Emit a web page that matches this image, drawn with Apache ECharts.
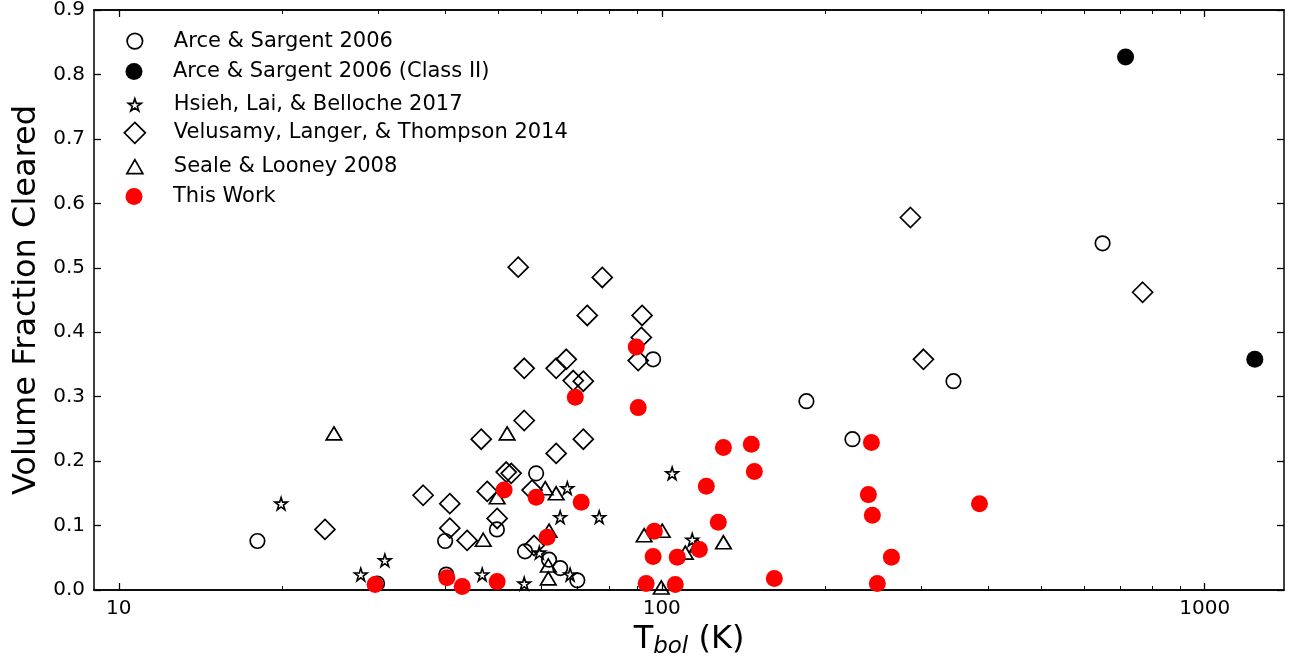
<!DOCTYPE html>
<html><head><meta charset="utf-8">
<script src="https://cdn.jsdelivr.net/npm/echarts@6/dist/echarts.min.js"></script>
<style>html,body{margin:0;padding:0;background:#fff}#c{width:1291px;height:657px}</style>
</head><body><div id="c"></div>
<script>
// ---------- data ----------
const seriesNames = ['Arce & Sargent 2006', 'Arce & Sargent 2006 (Class II)', 'Hsieh, Lai, & Belloche 2017',
  'Velusamy, Langer, & Thompson 2014', 'Seale & Looney 2008', 'This Work'];

const arceT = [18.0, 29.9, 39.9, 40.1, 49.7, 56.0, 58.7, 62.0, 65.0, 69.9, 96.4, 184.7, 224.5, 344.6, 648.6];
const arceV = [0.076, 0.010, 0.076, 0.024, 0.094, 0.060, 0.181, 0.047, 0.034, 0.015, 0.358, 0.293, 0.234, 0.324, 0.538];

const arceIIT = [715, 1237];
const arceIIV = [0.827, 0.358];

const hsiehT = [19.9, 27.9, 30.9, 46.7, 55.8, 59.5, 65.0, 67.0, 67.8, 76.7, 104.5, 113.8];
const hsiehV = [0.134, 0.024, 0.046, 0.024, 0.010, 0.058, 0.113, 0.158, 0.024, 0.113, 0.181, 0.078];

const veluT = [23.97, 36.35, 40.7, 40.7, 43.8, 46.5, 47.7, 49.75, 51.7, 52.8, 54.4, 55.8, 55.8, 57.7, 58.2,
  63.9, 63.9, 66.7, 68.7, 71.7, 71.7, 72.9, 77.7, 92.0, 91.7, 90.5, 287.1, 303.4, 768.6];
const veluV = [0.094, 0.147, 0.134, 0.096, 0.077, 0.234, 0.153, 0.111, 0.183, 0.181, 0.501, 0.344, 0.263, 0.155, 0.069,
  0.212, 0.344, 0.358, 0.325, 0.324, 0.234, 0.426, 0.485, 0.426, 0.392, 0.356, 0.578, 0.358, 0.462];

const sealeT = [24.9, 46.9, 49.75, 51.9, 61.0, 63.9, 62.0, 61.8, 61.8, 92.8, 100.2, 99.8, 110.5, 116.3, 129.9];
const sealeV = [0.243, 0.078, 0.144, 0.243, 0.158, 0.150, 0.092, 0.038, 0.018, 0.085, 0.092, 0.004, 0.058, 0.069, 0.074];

const workT = [29.65, 40.2, 42.9, 49.75, 51.25, 58.7, 61.5, 69.3, 71.06, 89.75, 90.5, 93.6, 96.4, 96.9, 105.9,
  106.8, 117.3, 120.8, 127.1, 129.9, 146.2, 148.1, 161.2, 243.3, 240.2, 244.3, 264.9, 249.5, 384.8];
const workV = [0.0085, 0.019, 0.0054, 0.013, 0.155, 0.144, 0.082, 0.299, 0.136, 0.377, 0.283, 0.010, 0.052, 0.091, 0.0085,
  0.051, 0.063, 0.161, 0.105, 0.221, 0.226, 0.184, 0.018, 0.229, 0.148, 0.116, 0.051, 0.010, 0.134];

const xMajorTicks = [10, 100, 1000];
const xMinorTicks = [20, 30, 40, 50, 60, 70, 80, 90, 200, 300, 400, 500, 600, 700, 800, 900];
const yTicks = [0.0, 0.1, 0.2, 0.3, 0.4, 0.5, 0.6, 0.7, 0.8, 0.9];

// ---------- chart ----------
const pairs = (xs, ys) => xs.map((x, i) => [x, ys[i]]);
const FONT = 'DejaVu Sans';
const STAR = 'path://M100,0 L122.45,69.1 L195.11,69.1 L136.33,111.8 L158.78,180.9 L100,138.2 L41.22,180.9 L63.67,111.8 L4.89,69.1 L77.55,69.1 Z';
const CLEAR = 'rgba(0,0,0,0)';

const styles = [
  {symbol: 'circle', size: 14.5, item: {color: CLEAR, borderColor: '#000', borderWidth: 1.7, opacity: 1}, data: pairs(arceT, arceV)},
  {symbol: 'circle', size: 17, item: {color: '#000', borderWidth: 0, opacity: 1}, data: pairs(arceIIT, arceIIV)},
  {symbol: STAR, size: 12.5, item: {color: CLEAR, borderColor: '#000', borderWidth: 1.6, opacity: 1}, data: pairs(hsiehT, hsiehV)},
  {symbol: 'diamond', size: 20, item: {color: CLEAR, borderColor: '#000', borderWidth: 1.7, opacity: 1}, data: pairs(veluT, veluV)},
  {symbol: 'triangle', size: [15.5, 13], item: {color: CLEAR, borderColor: '#000', borderWidth: 1.7, opacity: 1}, data: pairs(sealeT, sealeV)},
  {symbol: 'circle', size: 17, item: {color: '#ff0000', borderWidth: 0, opacity: 1}, data: pairs(workT, workV)}
];

const legendRows = [38.3, 69.5, 100.8, 132.0, 163.2, 194.5];
const legendIcon = [[15.5, 15.5], [17, 17], [13, 13], [21, 21], [16, 14], [17, 17]];

const series = styles.map((s, i) => ({
  name: seriesNames[i], type: 'scatter', xAxisIndex: 0, yAxisIndex: 0,
  symbol: s.symbol, symbolSize: s.size, itemStyle: s.item, data: s.data,
  silent: true, animation: false, z: 2 + i
}));

const legends = seriesNames.map((n, i) => {
  const w = legendIcon[i][0], h = legendIcon[i][1];
  return {
    data: [n], orient: 'vertical', selectedMode: false, padding: 0,
    left: 134 - w / 2, top: legendRows[i] - h / 2, itemWidth: w, itemHeight: h,
    itemStyle: styles[i].item,
    textStyle: {color: '#000', fontSize: 21, fontFamily: FONT, padding: [0, 0, 0, 34 - w / 2]}
  };
});

const axisLine = {show: true, onZero: false, lineStyle: {color: '#000', width: 1.5}};
const xBase = {type: 'log', logBase: 10, min: 9, max: 1400, splitLine: {show: false}, axisLine: axisLine};
const xAxes = [
  Object.assign({}, xBase, {position: 'bottom',
    axisTick: {show: true, inside: true, length: 7, lineStyle: {color: '#000', width: 1.3}, customValues: xMajorTicks},
    axisLabel: {show: true, customValues: xMajorTicks, color: '#000', fontSize: 20, fontFamily: FONT, margin: 9,
      formatter: v => String(Math.round(v))},
    name: 'T{sub|bol} (K)', nameLocation: 'middle', nameGap: 30,
    nameTextStyle: {color: '#000', fontSize: 32, fontFamily: FONT,
      rich: {sub: {fontSize: 23, fontStyle: 'italic', fontFamily: FONT, color: '#000', padding: [14, 0, 0, 0]}}}
  }),
  Object.assign({}, xBase, {position: 'bottom',
    axisTick: {show: true, inside: true, length: 4, lineStyle: {color: '#000', width: 1}, customValues: xMinorTicks},
    axisLabel: {show: false}}),
  Object.assign({}, xBase, {position: 'top',
    axisTick: {show: true, inside: true, length: 7, lineStyle: {color: '#000', width: 1.3}, customValues: xMajorTicks},
    axisLabel: {show: false}}),
  Object.assign({}, xBase, {position: 'top',
    axisTick: {show: true, inside: true, length: 4, lineStyle: {color: '#000', width: 1}, customValues: xMinorTicks},
    axisLabel: {show: false}})
];

const yBase = {type: 'value', min: 0, max: 0.9, interval: 0.1, splitLine: {show: false}, axisLine: axisLine,
  axisTick: {show: true, inside: true, length: 7, lineStyle: {color: '#000', width: 1.3}}};
const yAxes = [
  Object.assign({}, yBase, {position: 'left',
    axisLabel: {show: true, color: '#000', fontSize: 20, fontFamily: FONT, margin: 9,
      formatter: v => yTicks.reduce((b, t) => Math.abs(t - v) < Math.abs(b - v) ? t : b).toFixed(1)},
    name: 'Volume Fraction Cleared', nameLocation: 'middle', nameGap: 45,
    nameTextStyle: {color: '#000', fontSize: 32, fontFamily: FONT}}),
  Object.assign({}, yBase, {position: 'right', axisLabel: {show: false}})
];

const chart = echarts.init(document.getElementById('c'), null, {renderer: 'canvas'});
chart.setOption({
  backgroundColor: '#fff',
  animation: false,
  textStyle: {fontFamily: FONT},
  grid: {left: 94, right: 7, top: 10, bottom: 67, show: false, containLabel: false, outerBoundsMode: 'none'},
  legend: legends,
  xAxis: xAxes,
  yAxis: yAxes,
  series: series
});
</script></body></html>
